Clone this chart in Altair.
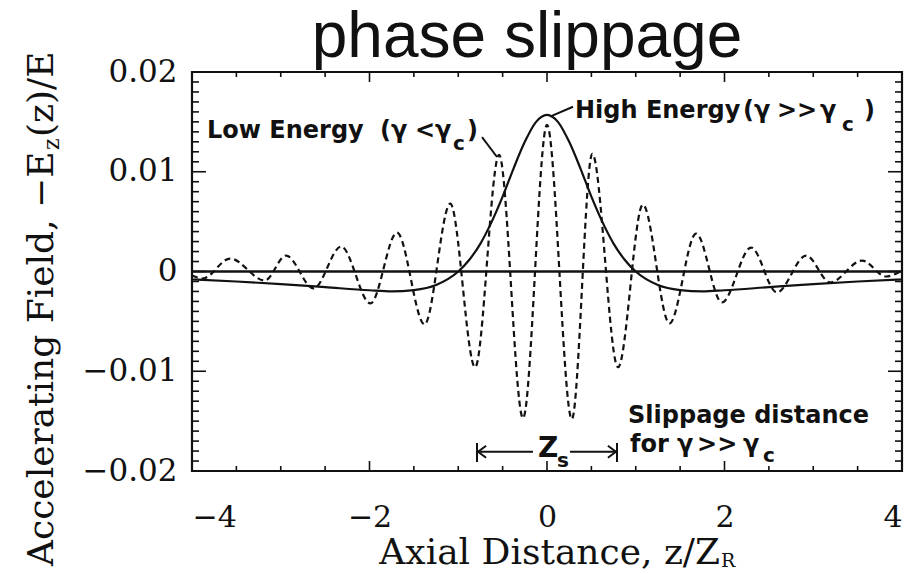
import altair as alt
import pandas as pd

# ---- curves: axial distance z/Z_R and field -E_z(z)/E ----
# high energy (gamma >> gamma_c): smooth on-axis field
solid_z = [-4.0, -3.5, -3.0, -2.5, -2.0, -1.75, -1.5, -1.25, -1.0, -0.875, -0.75, -0.625,
           -0.5, -0.375, -0.25, -0.125, 0.0, 0.125, 0.25, 0.375, 0.5, 0.625, 0.75, 0.875,
           1.0, 1.25, 1.5, 1.75, 2.0, 2.5, 3.0, 3.5, 4.0]
solid_v = [-0.0008, -0.0010, -0.00126, -0.00157, -0.00188, -0.00199, -0.00186, -0.00135,
           0.0, 0.00118, 0.0028, 0.00495, 0.0075, 0.01037, 0.0130, 0.01498, 0.0157,
           0.01498, 0.0130, 0.01037, 0.0075, 0.00495, 0.0028, 0.00118, 0.0,
           -0.00135, -0.00186, -0.00199, -0.00188, -0.00157, -0.00126, -0.0010, -0.0008]

# low energy (gamma < gamma_c): oscillating field, its crests and troughs
dash_z = [-4.0, -3.88, -3.57, -3.18, -2.94, -2.63, -2.32, -1.99, -1.69, -1.38, -1.09,
          -0.81, -0.54, -0.27, 0.0, 0.28, 0.51, 0.80, 1.08, 1.38, 1.68, 1.97, 2.30,
          2.59, 2.92, 3.19, 3.55, 3.82, 4.0]
dash_v = [-0.0004, -0.0007, 0.0013, -0.0009, 0.0016, -0.0017, 0.0025, -0.0032, 0.0039,
          -0.0053, 0.0068, -0.0096, 0.0117, -0.0147, 0.0147, -0.0148, 0.0118, -0.0096,
          0.0067, -0.0052, 0.0038, -0.0031, 0.0024, -0.0021, 0.0016, -0.0011, 0.0011,
          -0.0005, 0.0001]

# ---- axis ticks ----
x_labels = [-4, -2, 0, 2, 4]
x_minor = [-3.5, -3.0, -2.5, -1.5, -1.0, -0.5, 0.5, 1.0, 1.5, 2.5, 3.0, 3.5]
x_major = [-2, 0, 2]
y_labels = [-0.02, -0.01, 0, 0.01, 0.02]
y_major = [-0.01, 0.0, 0.01]
y_minor = [round(i / 1000, 3) for i in range(-19, 20) if i % 10 != 0]

W, H = 710, 399
INK = "#111111"
xs = alt.Scale(domain=[-4, 4], nice=False, zero=False)
ys = alt.Scale(domain=[-0.02, 0.02], nice=False, zero=False)

x_axis = alt.Axis(values=x_labels, format="d", ticks=False, domain=False, grid=False,
                  labelFont="DejaVu Serif", labelFontSize=30, labelColor=INK,
                  labelPadding=31, title=None)
y_axis = alt.Axis(values=y_labels, format="~g", ticks=False, domain=False, grid=False,
                  labelFont="DejaVu Serif", labelFontSize=31, labelColor=INK,
                  labelPadding=15, title=None)


def X(f):
    return alt.X(f, type="quantitative", scale=xs, axis=x_axis)


def Y(f):
    return alt.Y(f, type="quantitative", scale=ys, axis=y_axis)


solid = alt.Chart(pd.DataFrame({"z": solid_z, "v": solid_v})).mark_line(
    color=INK, strokeWidth=2.2, interpolate="monotone"
).encode(x=X("z"), y=Y("v"))

dashed = alt.Chart(pd.DataFrame({"z": dash_z, "v": dash_v})).mark_line(
    color=INK, strokeWidth=2.2, strokeDash=[6, 4], interpolate="monotone"
).encode(x=X("z"), y=Y("v"))

zero = alt.Chart(pd.DataFrame({"v": [0.0]})).mark_rule(color=INK, strokeWidth=2.4).encode(y=Y("v"))


# inward ticks on all four sides
def xticks(vals, length):
    d = pd.DataFrame({"z": vals})
    bot = alt.Chart(d).mark_rule(color=INK, strokeWidth=1.6).encode(
        x=X("z"), y=alt.value(H), y2=alt.value(H - length))
    top = alt.Chart(d).mark_rule(color=INK, strokeWidth=1.6).encode(
        x=X("z"), y=alt.value(0), y2=alt.value(length))
    return [bot, top]


def yticks(vals, length):
    d = pd.DataFrame({"v": vals})
    left = alt.Chart(d).mark_rule(color=INK, strokeWidth=1.6).encode(
        y=Y("v"), x=alt.value(0), x2=alt.value(length))
    right = alt.Chart(d).mark_rule(color=INK, strokeWidth=1.6).encode(
        y=Y("v"), x=alt.value(W), x2=alt.value(W - length))
    return [left, right]


ticks = xticks(x_minor, 5) + xticks(x_major, 10) + yticks(y_minor, 7) + yticks(y_major, 14)

# ---- annotations inside the plot ----
notes = pd.DataFrame({
    "t": ["Low Energy", "(γ", "<", "γ", ")",
          "High Energy", "(γ", ">>", "γ", ")",
          "Slippage distance", "for γ", ">>", "γ"],
    "z": [-3.831, -1.882, -1.487, -1.262, -0.901,
          0.315, 2.208, 2.591, 3.076, 3.572,
          0.913, 0.935, 1.691, 2.209],
    "v": [0.01335] * 5 + [0.01536] * 5 + [-0.01522, -0.01807, -0.01807, -0.01807],
})
subs = pd.DataFrame({
    "t": ["c", "c", "c", "s"],
    "z": [-1.059, 3.324, 2.434, 0.113],
    "v": [0.01218, 0.01409, -0.0191, -0.0196],
})
zs = pd.DataFrame({"t": ["Z"], "z": [-0.101], "v": [-0.0186]})

note_font = dict(font="DejaVu Sans", fontWeight="bold", color=INK, align="left", baseline="alphabetic")
note_text = alt.Chart(notes).mark_text(fontSize=24, **note_font).encode(x=X("z"), y=Y("v"), text="t:N")
sub_text = alt.Chart(subs).mark_text(fontSize=20, **note_font).encode(x=X("z"), y=Y("v"), text="t:N")
zs_text = alt.Chart(zs).mark_text(fontSize=28, **note_font).encode(x=X("z"), y=Y("v"), text="t:N")

segs = pd.DataFrame({
    "z1": [-0.732, 0.034, -0.777, 0.259, -0.789, 0.789],
    "z2": [-0.563, 0.293, -0.158, 0.777, -0.789, 0.789],
    "v1": [0.01348, 0.01552, -0.01807, -0.01807, -0.01719, -0.01719],
    "v2": [0.01148, 0.01652, -0.01807, -0.01807, -0.0191, -0.0191],
})
seg_rules = alt.Chart(segs).mark_rule(color=INK, strokeWidth=2).encode(
    x=X("z1"), x2="z2", y=Y("v1"), y2="v2")

heads_l = alt.Chart(pd.DataFrame({"z": [-0.777], "v": [-0.01807]})).mark_point(
    shape="M1,-0.75L0,0L1,0.75", filled=False, stroke=INK, strokeWidth=2, size=260, opacity=1
).encode(x=X("z"), y=Y("v"))
heads_r = alt.Chart(pd.DataFrame({"z": [0.777], "v": [-0.01807]})).mark_point(
    shape="M-1,-0.75L0,0L-1,0.75", filled=False, stroke=INK, strokeWidth=2, size=260, opacity=1
).encode(x=X("z"), y=Y("v"))


# ---- chart title and axis titles (with subscripts) ----
def label(text, x, y, size, font="DejaVu Serif", align="left", angle=0):
    kw = dict(font=font, fontSize=size, color=INK, align=align, baseline="alphabetic")
    if angle:
        kw["angle"] = angle
    return alt.Chart(pd.DataFrame({"t": [text]})).mark_text(**kw).encode(
        text="t:N", x=alt.value(x), y=alt.value(y))


titles = [
    label("phase slippage", 335, -15, 64, font="Liberation Sans", align="center"),
    label("Axial Distance, z/Z", 528, 492, 36, align="right"),
    label("R", 529, 495, 19),
    label("Accelerating Field, −E", -139, 494, 36, angle=270),
    label("z", -133, 78, 22, angle=270),
    label("(z)/E", -139, 65, 36, angle=270),
]

chart = alt.layer(
    solid, zero, dashed, *ticks, seg_rules, heads_l, heads_r,
    note_text, sub_text, zs_text, *titles
).properties(
    width=W, height=H,
    padding={"left": 192, "top": 72, "right": 13, "bottom": 103},
    autosize=alt.AutoSizeParams(type="none"),
    background="white",
).configure_view(stroke=INK, strokeWidth=2.2)

chart.save("out.html", embed_options={"renderer": "svg", "actions": False})
